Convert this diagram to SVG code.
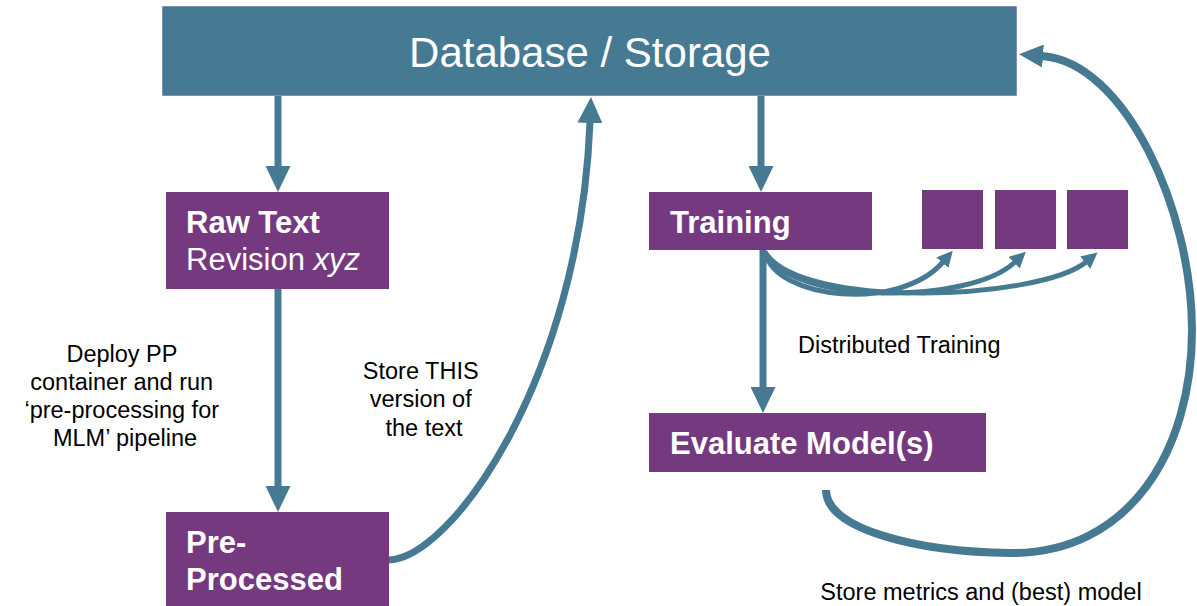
<svg xmlns="http://www.w3.org/2000/svg" width="1197" height="606" viewBox="0 0 1197 606">
  <style>
    .store { fill: #467A93; stroke: #4E729E; stroke-width: 1.5; }
    .step { fill: #74397F; }
    .title { font-family: "Liberation Sans", Arial, sans-serif; font-size: 42px; fill: #FFFFFF; }
    .label { font-family: "Liberation Sans", Arial, sans-serif; font-size: 31px; fill: #FFFFFF; }
    .bold { font-weight: bold; }
    .note { font-family: "Liberation Sans", Arial, sans-serif; font-size: 23.5px; fill: #000000; }
    .flow { fill: none; stroke: #467A93; stroke-linecap: butt; }
    .thick { stroke-width: 7; }
    .thin { stroke-width: 5; }
  </style>
  <defs>
    <marker id="head" markerUnits="userSpaceOnUse" markerWidth="26" markerHeight="25" refX="1" refY="12.5" orient="auto">
      <path d="M0,0 L26,12.5 L0,25 Z" fill="#467A93"/>
    </marker>
    <marker id="head-return" markerUnits="userSpaceOnUse" markerWidth="24" markerHeight="23" refX="1" refY="11.5" orient="auto">
      <path d="M0,0 L24,11.5 L0,23 Z" fill="#467A93"/>
    </marker>
    <marker id="head-small" markerUnits="userSpaceOnUse" markerWidth="16" markerHeight="16" refX="1" refY="8" orient="auto">
      <path d="M0,0 L16,8 L0,16 Z" fill="#467A93"/>
    </marker>
  </defs>

  <rect width="1197" height="606" fill="#FFFFFF"/>

  <!-- connectors -->
  <g id="connectors">
    <path class="flow thick" d="M278 96 L278 167" marker-end="url(#head)"/>
    <path class="flow thick" d="M278 289 L278 487" marker-end="url(#head)"/>
    <path class="flow thick" d="M761 96 L761 167" marker-end="url(#head)"/>
    <path class="flow thick" d="M763 250 L763 388" marker-end="url(#head)"/>
    <path class="flow thick" d="M388 560 C450 560 580 380 590 122" marker-end="url(#head)"/>
    <path class="flow thin" d="M765 252 C775 300 900 312 943 262" marker-end="url(#head-small)"/>
    <path class="flow thin" d="M765 252 C790 305 970 305 1015 262" marker-end="url(#head-small)"/>
    <path class="flow thin" d="M765 252 C800 310 1040 300 1086 262" marker-end="url(#head-small)"/>
    <path class="flow" stroke-width="8" d="M826 490 C826 530 920 552 1010 553 C1130 554 1192 450 1192 330 C1192 210 1125 62 1042 56" marker-end="url(#head-return)"/>
  </g>

  <!-- nodes -->
  <g id="database">
    <rect class="store" x="163" y="7" width="853" height="88"/>
    <text class="title" x="590" y="67" text-anchor="middle">Database / Storage</text>
  </g>

  <g id="raw-text">
    <rect class="step" x="166" y="192" width="223" height="97"/>
    <text class="label bold" x="186" y="233">Raw Text</text>
    <text class="label" x="186" y="270">Revision <tspan font-style="italic">xyz</tspan></text>
  </g>

  <g id="pre-processed">
    <rect class="step" x="166" y="512" width="223" height="94"/>
    <text class="label bold" x="186" y="553">Pre-</text>
    <text class="label bold" x="186" y="590">Processed</text>
  </g>

  <g id="training">
    <rect class="step" x="649" y="192" width="223" height="58"/>
    <text class="label bold" x="670" y="233">Training</text>
  </g>

  <g id="worker-1">
    <rect class="step" x="922" y="190" width="61" height="59"/>
  </g>
  <g id="worker-2">
    <rect class="step" x="995" y="190" width="61" height="59"/>
  </g>
  <g id="worker-3">
    <rect class="step" x="1067" y="190" width="61" height="59"/>
  </g>

  <g id="evaluate">
    <rect class="step" x="649" y="413" width="337" height="59"/>
    <text class="label bold" x="670" y="454">Evaluate Model(s)</text>
  </g>

  <!-- annotations -->
  <g id="notes">
    <text class="note" text-anchor="middle">
      <tspan x="125" y="362">Deploy PP</tspan>
      <tspan x="125" y="390">container and run</tspan>
      <tspan x="125" y="418">‘pre-processing for</tspan>
      <tspan x="125" y="446">MLM’ pipeline</tspan>
    </text>
    <text class="note" text-anchor="middle">
      <tspan x="424" y="379">Store THIS</tspan>
      <tspan x="424" y="407">version of</tspan>
      <tspan x="424" y="436">the text</tspan>
    </text>
    <text class="note" x="798" y="353">Distributed Training</text>
    <text class="note" x="981" y="600" text-anchor="middle">Store metrics and (best) model</text>
  </g>
</svg>
